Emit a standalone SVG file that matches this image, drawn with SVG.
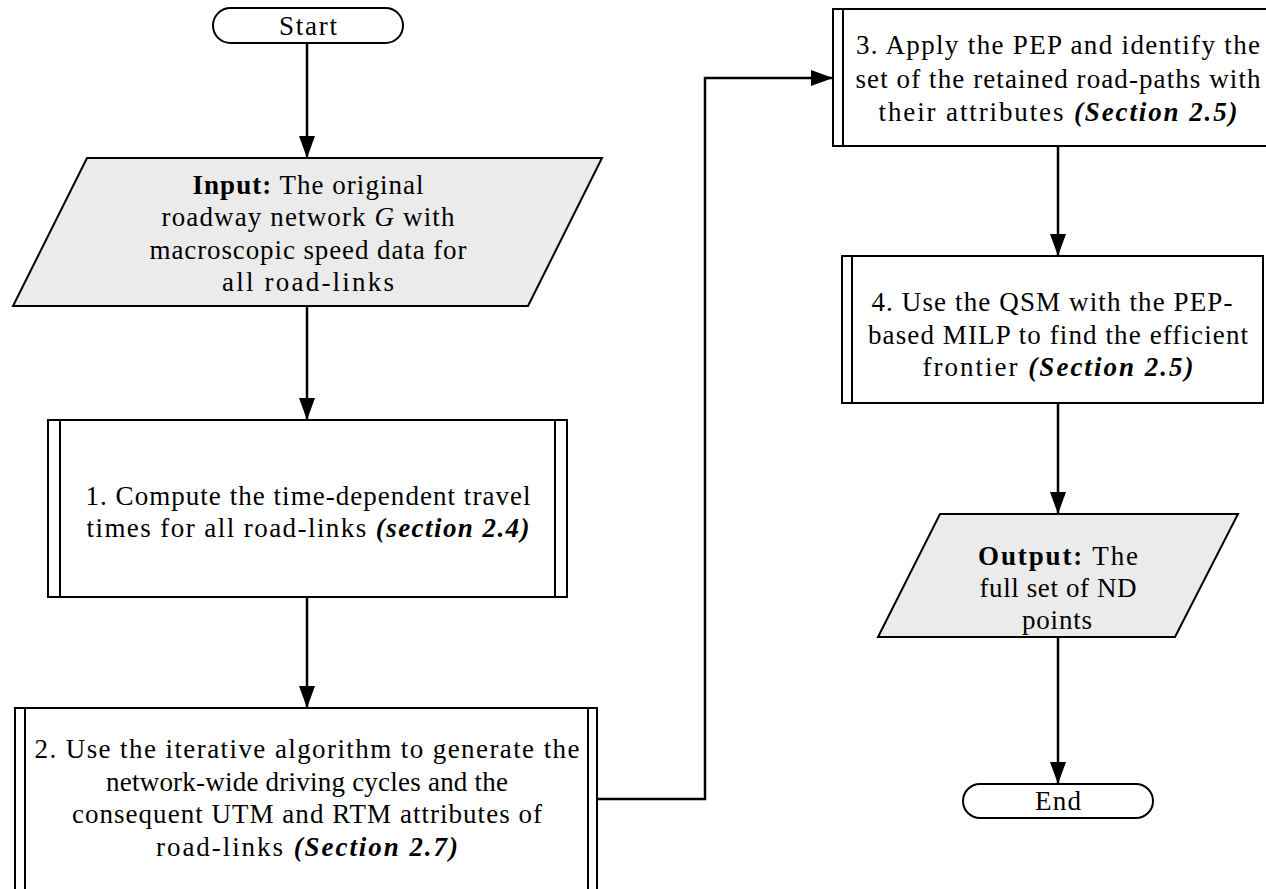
<svg xmlns="http://www.w3.org/2000/svg" width="1266" height="889" viewBox="0 0 1266 889">
<defs>
<marker id="ah" markerWidth="22" markerHeight="16" refX="22" refY="8" orient="auto" markerUnits="userSpaceOnUse" viewBox="0 0 22 16">
<path d="M0,0 L22,8 L0,16 z" fill="#000"/>
</marker>
<style>
text{font-family:'Liberation Serif','DejaVu Serif',serif;font-size:27px;fill:#000;text-anchor:middle}
.b{font-weight:bold}
.bi{font-weight:bold;font-style:italic}
.i{font-style:italic}
.box{fill:#fff;stroke:#000;stroke-width:2}
.io{fill:#ebebeb;stroke:#000;stroke-width:2}
.ln{stroke:#000;stroke-width:2;fill:none}
.c{stroke:#000;stroke-width:2.5;fill:none}
</style>
</defs>
<rect width="1266" height="889" fill="#fff"/>
<g id="connectors">
<line class="c" x1="307" y1="43" x2="307" y2="158" marker-end="url(#ah)"/>
<line class="c" x1="307" y1="306" x2="307" y2="420" marker-end="url(#ah)"/>
<line class="c" x1="307" y1="597" x2="307" y2="708" marker-end="url(#ah)"/>
<polyline class="c" points="597,799 705,799 705,78 833,78" marker-end="url(#ah)"/>
<line class="c" x1="1058" y1="146" x2="1058" y2="256" marker-end="url(#ah)"/>
<line class="c" x1="1058" y1="403" x2="1058" y2="514" marker-end="url(#ah)"/>
<line class="c" x1="1058" y1="637" x2="1058" y2="784" marker-end="url(#ah)"/>
</g>
<g id="start">
<rect class="box" x="213" y="8" width="190" height="35" rx="17.5" ry="17.5"/>
<text x="308" y="35" textLength="58" lengthAdjust="spacing">Start</text>
</g>
<g id="input">
<polygon class="io" points="87,158 602,158 528,306 13,306"/>
<text x="308" y="194" textLength="231" lengthAdjust="spacing"><tspan class="b">Input:</tspan> The original</text>
<text x="308" y="226" textLength="293" lengthAdjust="spacing">roadway network <tspan class="i">G</tspan> with</text>
<text x="308" y="259" textLength="317" lengthAdjust="spacing">macroscopic speed data for</text>
<text x="308" y="291" textLength="172" lengthAdjust="spacing">all road-links</text>
</g>
<g id="step1">
<rect class="box" x="48" y="420" width="519" height="177"/>
<line class="ln" x1="60" y1="420" x2="60" y2="597"/>
<line class="ln" x1="555" y1="420" x2="555" y2="597"/>
<text x="308" y="505" textLength="445" lengthAdjust="spacing">1. Compute the time-dependent travel</text>
<text x="308" y="537" textLength="443" lengthAdjust="spacing">times for all road-links <tspan class="bi">(section 2.4)</tspan></text>
</g>
<g id="step2">
<rect class="box" x="15" y="708" width="582" height="190"/>
<line class="ln" x1="25" y1="708" x2="25" y2="898"/>
<line class="ln" x1="588" y1="708" x2="588" y2="898"/>
<text x="307" y="758" textLength="545" lengthAdjust="spacing">2. Use the iterative algorithm to generate the</text>
<text x="307" y="791" textLength="402" lengthAdjust="spacing">network-wide driving cycles and the</text>
<text x="307" y="823" textLength="470" lengthAdjust="spacing">consequent UTM and RTM attributes of</text>
<text x="307" y="856" textLength="302" lengthAdjust="spacing">road-links <tspan class="bi">(Section 2.7)</tspan></text>
</g>
<g id="step3">
<rect class="box" x="833" y="9" width="445" height="137"/>
<line class="ln" x1="843" y1="9" x2="843" y2="146"/>
<text x="1058" y="54" textLength="404" lengthAdjust="spacing">3. Apply the PEP and identify the</text>
<text x="1058" y="88" textLength="405" lengthAdjust="spacing">set of the retained road-paths with</text>
<text x="1058" y="121" textLength="359" lengthAdjust="spacing">their attributes <tspan class="bi">(Section 2.5)</tspan></text>
</g>
<g id="step4">
<rect class="box" x="842" y="256" width="421" height="147"/>
<line class="ln" x1="852" y1="256" x2="852" y2="403"/>
<text x="1052" y="311" textLength="361" lengthAdjust="spacing">4. Use the QSM with the PEP-</text>
<text x="1058" y="344" textLength="380" lengthAdjust="spacing">based MILP to find the efficient</text>
<text x="1058" y="376" textLength="271" lengthAdjust="spacing">frontier <tspan class="bi">(Section 2.5)</tspan></text>
</g>
<g id="output">
<polygon class="io" points="940,514 1238,514 1175,637 878,637"/>
<text x="1058" y="565" textLength="160" lengthAdjust="spacing"><tspan class="b">Output:</tspan> The</text>
<text x="1058" y="597" textLength="157" lengthAdjust="spacing">full set of ND</text>
<text x="1057" y="629" textLength="70" lengthAdjust="spacing">points</text>
</g>
<g id="end">
<rect class="box" x="963" y="784" width="190" height="34" rx="17" ry="17"/>
<text x="1058" y="810" textLength="46" lengthAdjust="spacing">End</text>
</g>
</svg>
